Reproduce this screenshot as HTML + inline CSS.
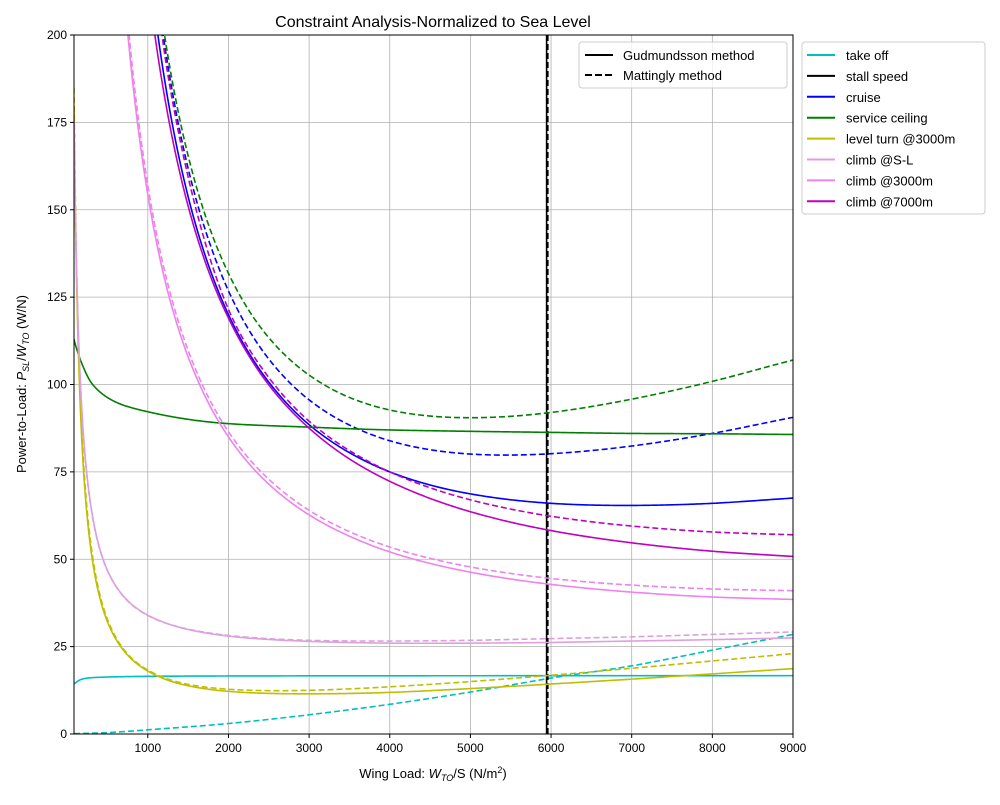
<!DOCTYPE html>
<html><head><meta charset="utf-8"><style>
body{margin:0;background:#fff;font-family:"Liberation Sans","DejaVu Sans",sans-serif}
svg text{font-family:"Liberation Sans","DejaVu Sans",sans-serif;fill:#000}
</style></head><body>
<svg id="chart" width="1000" height="800" xmlns="http://www.w3.org/2000/svg">
<defs><clipPath id="clip"><rect x="74" y="35" width="719" height="699"/></clipPath></defs>
<rect width="1000" height="800" fill="#fff"/>
<g id="grid"></g>
<g id="series" clip-path="url(#clip)"></g>
<rect x="74" y="35" width="719" height="699" fill="none" stroke="#000" stroke-width="1"/>
<g id="ticks"></g>
<text x="433" y="27" font-size="16" text-anchor="middle">Constraint Analysis-Normalized to Sea Level</text>
<text x="433" y="778" font-size="13" text-anchor="middle">Wing Load: <tspan font-style="italic">W</tspan><tspan font-size="9" dy="3" font-style="italic">TO</tspan><tspan dy="-3">/S (N/m</tspan><tspan font-size="9" dy="-5">2</tspan><tspan dy="5">)</tspan></text>
<text transform="translate(26,384) rotate(-90)" font-size="13" text-anchor="middle">Power-to-Load: <tspan font-style="italic">P</tspan><tspan font-size="9" dy="3" font-style="italic">SL</tspan><tspan dy="-3">/</tspan><tspan font-style="italic">W</tspan><tspan font-size="9" dy="3" font-style="italic">TO</tspan><tspan dy="-3"> (W/N)</tspan></text>
<g>
<rect x="579" y="42" width="208" height="46" rx="3" fill="#fff" fill-opacity="0.8" stroke="#ccc"/>
<line x1="585" y1="55" x2="613" y2="55" stroke="#000" stroke-width="2"/>
<text x="623" y="60" font-size="13">Gudmundsson method</text>
<line x1="585" y1="75" x2="613" y2="75" stroke="#000" stroke-width="2" stroke-dasharray="7,3"/>
<text x="623" y="80" font-size="13">Mattingly method</text>
</g>
<g id="legend2">
<rect x="802" y="42" width="183" height="172" rx="3" fill="#fff" stroke="#ccc"/>
</g>
</svg>
<script>
const xMin=85,xMax=9000,yMin=0,yMax=200;
const xTicks=[1000,2000,3000,4000,5000,6000,7000,8000,9000];
const yTicks=[0,25,50,75,100,125,150,175,200];
const seriesNames=["take off","stall speed","cruise","service ceiling","level turn @3000m","climb @S-L","climb @3000m","climb @7000m"];
const seriesColors=["#00bfbf","#000000","#0000ff","#008000","#bfbf00","#dda0dd","#ee82ee","#bf00bf"];
const stallX=[5945,5960];
const takeoffX=[85,200,300,500,1000,2000,9000];
const takeoffY=[14.3,15.8,16.1,16.3,16.5,16.6,16.7];
const takeoffDX=[85,500,1000,2000,3000,4000,5000,6000,7000,8000,9000];
const takeoffDY=[0.1,0.4,1.2,3,5.5,8.5,12,16,19.5,24,28.5];
const steepX=[1000,1100,1200,1400,1600,1800,2000,2500,3000,3500,4000,5000,6000,7000,8000,9000];
const cruiseY=[223.5,204.3,188.4,163.6,145.2,131.1,120,100.7,88.5,80.5,75,68.7,66,65.4,66,67.5];
const cruiseDY=[232,215.4,198.5,172.2,152.9,138.3,126.8,107.3,95.6,88.4,83.9,80.1,80.2,82.4,86,90.6];
const ceilDY=[238,217.6,201.1,175.5,156.8,142.7,131.8,113.4,102.7,96.3,92.7,90.5,92,95.8,100.9,107];
const c7Y=[215.7,198,183.4,160.3,143,129.6,119,99.9,87.5,78.7,72.3,63.6,58.2,54.7,52.3,50.8];
const c7DY=[232,214,196,170,150,134,121.5,102,89.5,81.1,75,67,62.3,59.5,57.8,57];
const ceilX=[85,150,200,300,400,600,1000,2000,3000,4000,5000,6000,7000,8000,9000];
const ceilY=[113,108,105,100.5,98,95,92.2,88.8,87.8,87,86.6,86.3,86,85.9,85.7];
const c3X=[700,800,900,1000,1200,1400,1600,1800,2000,2500,3000,3500,4000,5000,6000,7000,8000,9000];
const c3Y=[214.3,189.2,169.9,154.3,131,114.5,102.2,92.6,85,71.5,62.7,56.6,52.1,46.3,42.8,40.6,39.2,38.5];
const c3DY=[218.3,192.7,172.9,157,133.3,116.5,103.9,94.2,86.5,72.9,64,57.9,53.5,47.8,44.5,42.6,41.5,41];
const lowX=[85,100,130,170,220,300,400,500,600,800,1000,1500,2000,3000,4000,5000,6000,7000,8000,9000];
const turnY=[177.9,151.4,116.9,89.8,69.8,51.8,39.4,32.1,27.3,21.4,18,13.8,12.2,11.5,11.9,13,14.3,15.7,17.2,18.7];
const turnDY=[184.9,157.2,121,92.6,71.9,53.3,40.4,32.8,27.8,21.7,18.3,14.2,12.8,12.5,13.5,15,16.8,18.8,20.9,23];
const slY=[175.6,152.3,121.8,97.9,80.3,64.4,53.4,46.8,42.5,37.1,34,29.9,28,26.5,26,26,26.2,26.6,27,27.5];
const slDY=[175.4,152,121.6,97.6,80,64.1,53.2,46.7,42.4,37,33.9,30,28.2,26.8,26.6,26.8,27.3,27.8,28.5,29.2];

const L=74,R=793,T=35,B=734;
const sx=v=>L+(v-xMin)/(xMax-xMin)*(R-L);
const sy=v=>B-(v-yMin)/(yMax-yMin)*(B-T);
const NS="http://www.w3.org/2000/svg";
function mk(tag,attrs,parent){const e=document.createElementNS(NS,tag);for(const k in attrs)e.setAttribute(k,attrs[k]);parent.appendChild(e);return e;}
const grid=document.getElementById('grid'),ticks=document.getElementById('ticks'),ser=document.getElementById('series');
xTicks.forEach(t=>{const x=sx(t);
 const g=mk('line',{x1:x,x2:x,y1:T,y2:B,stroke:'#b0b0b0','stroke-width':0.8},grid);
 
 
 mk('line',{x1:x,x2:x,y1:B,y2:B+4,stroke:'#000'},ticks);
 const tx=mk('text',{x:x,y:B+18,'font-size':12,'text-anchor':'middle'},ticks);tx.textContent=t;
 
 
});
yTicks.forEach(t=>{const y=sy(t);
 const g=mk('line',{x1:L,x2:R,y1:y,y2:y,stroke:'#b0b0b0','stroke-width':0.8},grid);
 
 
 mk('line',{x1:L-4,x2:L,y1:y,y2:y,stroke:'#000'},ticks);
 const tx=mk('text',{x:L-7,y:y+4,'font-size':12,'text-anchor':'end'},ticks);tx.textContent=t;
 
 
});
function pathD(xsRaw,ysRaw){const xs=xsRaw.map(Math.log),ys=ysRaw.map(v=>Math.log(Math.max(v,0.05)));
 const n=xs.length,m=new Array(n),d=[];
 for(let i=0;i<n-1;i++)d.push((ys[i+1]-ys[i])/(xs[i+1]-xs[i]));
 m[0]=d[0];m[n-1]=d[n-2];
 for(let i=1;i<n-1;i++){const h0=xs[i]-xs[i-1],h1=xs[i+1]-xs[i];m[i]=(d[i-1]*h1+d[i]*h0)/(h0+h1);}
 let s='';
 for(let i=0;i<n-1;i++){const h=xs[i+1]-xs[i],steps=40;
  for(let k=(i?1:0);k<=steps;k++){const t=k/steps,t2=t*t,t3=t2*t;
   const y=(2*t3-3*t2+1)*ys[i]+(t3-2*t2+t)*h*m[i]+(-2*t3+3*t2)*ys[i+1]+(t3-t2)*h*m[i+1];
   const x=xs[i]+t*h;
   s+=(s?'L':'M')+sx(Math.exp(x)).toFixed(2)+','+sy(Math.exp(y)).toFixed(2);}}
 return s;}
function draw(xs,ys,color,dashed,name){const e=mk('path',{d:pathD(xs,ys),fill:'none',stroke:color,'stroke-width':1.6,'stroke-linejoin':'round'},ser);
 if(dashed)e.setAttribute('stroke-dasharray','6,3');
 
 }
draw(takeoffDX,takeoffDY,seriesColors[0],true,'takeoff-mattingly');
draw(takeoffX,takeoffY,seriesColors[0],false,'takeoff-gudmundsson');
stallX.forEach((v,i)=>{const e=mk('line',{x1:sx(v),x2:sx(v),y1:T,y2:B,stroke:'#000','stroke-width':1.6},ser);
 if(i==1)e.setAttribute('stroke-dasharray','6,3');
 
 });
draw(steepX,cruiseDY,seriesColors[2],true,'cruise-mattingly');
draw(steepX,cruiseY,seriesColors[2],false,'cruise-gudmundsson');
draw(steepX,ceilDY,seriesColors[3],true,'ceiling-mattingly');
draw(ceilX,ceilY,seriesColors[3],false,'ceiling-gudmundsson');
draw(lowX,turnDY,seriesColors[4],true,'turn-mattingly');
draw(lowX,turnY,seriesColors[4],false,'turn-gudmundsson');
draw(lowX,slDY,seriesColors[5],true,'climb-sl-mattingly');
draw(lowX,slY,seriesColors[5],false,'climb-sl-gudmundsson');
draw(c3X,c3DY,seriesColors[6],true,'climb-3000-mattingly');
draw(c3X,c3Y,seriesColors[6],false,'climb-3000-gudmundsson');
draw(steepX,c7DY,seriesColors[7],true,'climb-7000-mattingly');
draw(steepX,c7Y,seriesColors[7],false,'climb-7000-gudmundsson');
const lg=document.getElementById('legend2');
seriesNames.forEach((n,i)=>{const y=55+i*20.9;
 const l=mk('line',{x1:807,x2:835,y1:y,y2:y,stroke:seriesColors[i],'stroke-width':2},lg);
 
 
 const t=mk('text',{x:846,y:y+5,'font-size':13},lg);t.textContent=n;
 
 
});
</script>
</body></html>
